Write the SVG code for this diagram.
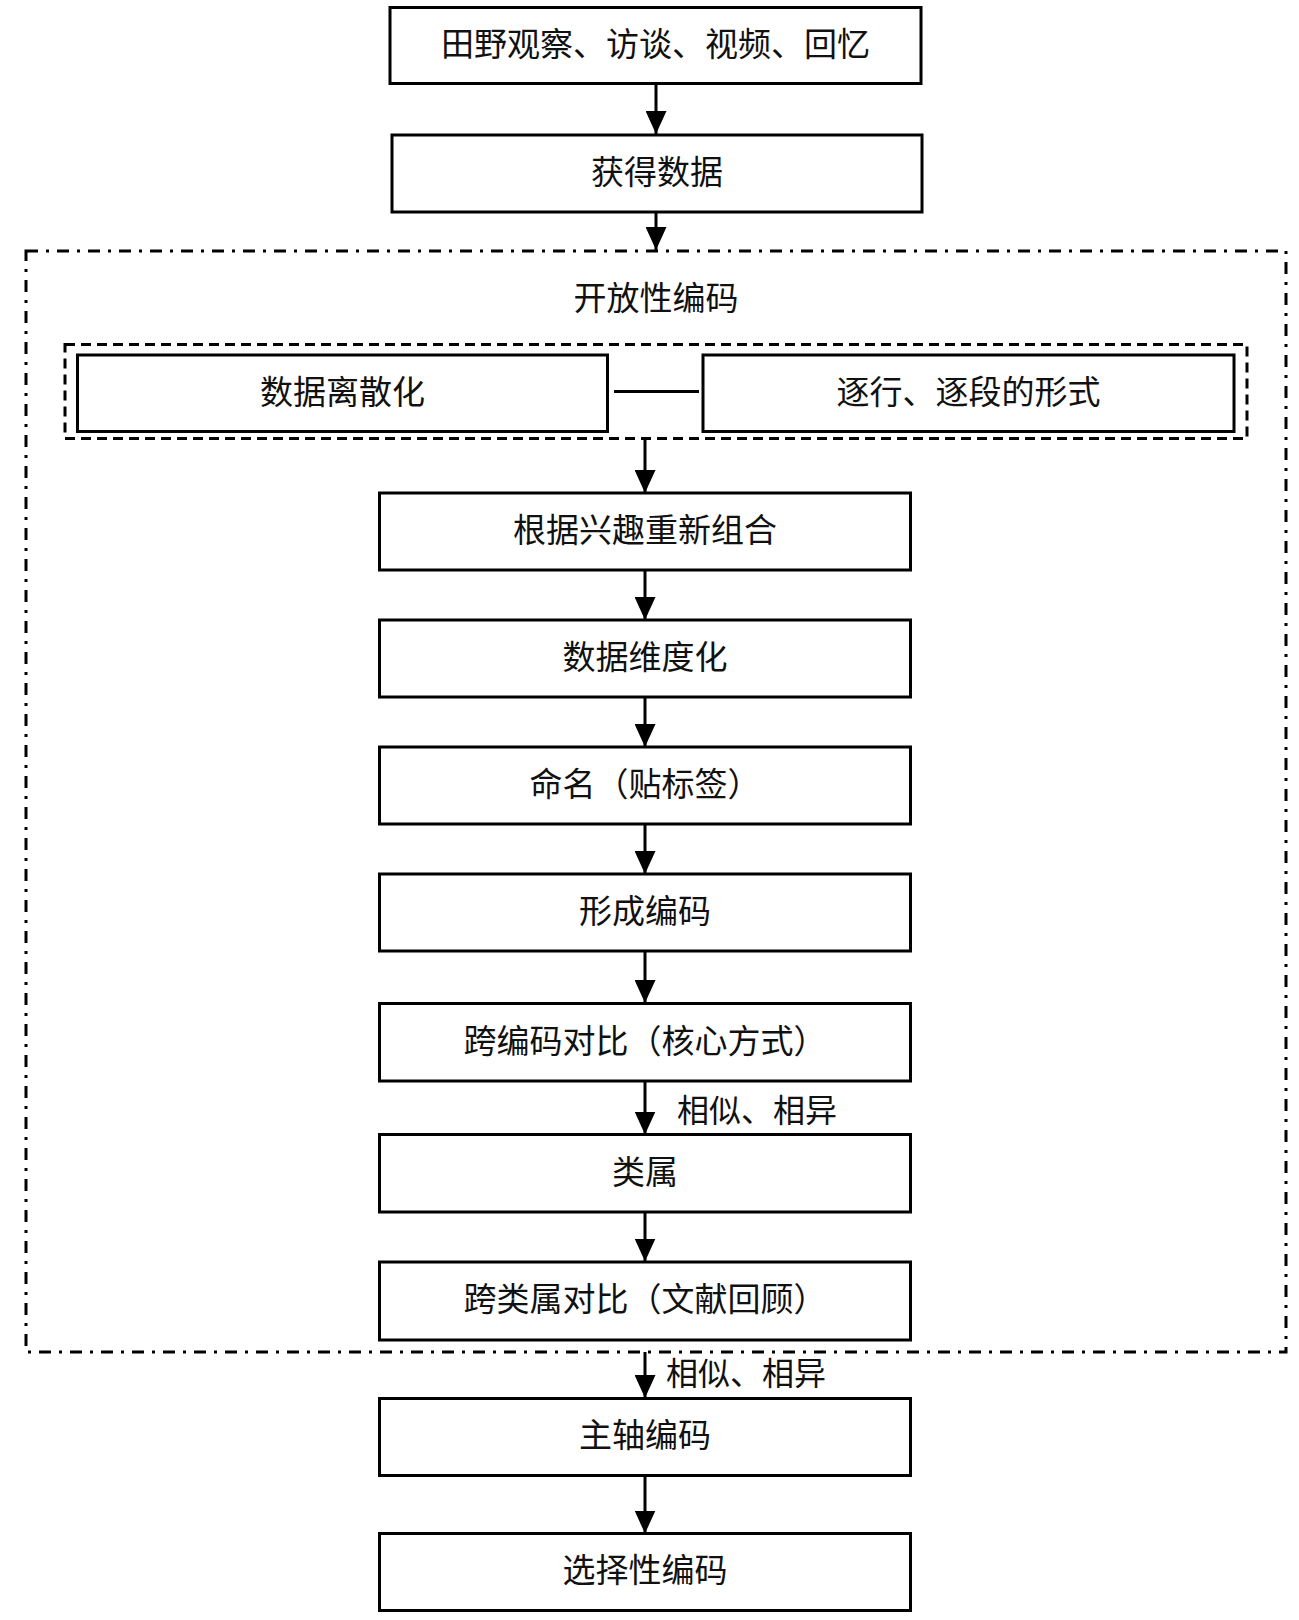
<svg xmlns="http://www.w3.org/2000/svg" width="1299" height="1620" viewBox="0 0 1299 1620">
  <style>
    .box { fill: #ffffff; stroke: #000000; stroke-width: 3; }
    .lbl { font-family: "Noto Sans CJK SC", "Noto Sans", sans-serif; font-size: 33px; fill: #111111; text-anchor: middle; dominant-baseline: central; }
    .note { font-family: "Noto Sans CJK SC", "Noto Sans", sans-serif; font-size: 32px; fill: #111111; dominant-baseline: central; }
    .flow { stroke: #000000; stroke-width: 3; fill: none; }
    .outer { fill: none; stroke: #000000; stroke-width: 3; stroke-dasharray: 12 8 3 8; }
    .inner { fill: none; stroke: #000000; stroke-width: 3; stroke-dasharray: 10 6; }
  </style>
  <defs>
    <marker id="arrow" markerUnits="userSpaceOnUse" markerWidth="23" markerHeight="21" refX="23" refY="10.5" orient="auto">
      <path d="M0,0 L23,10.5 L0,21 Z" fill="#000000"/>
    </marker>
  </defs>
  <rect width="1299" height="1620" fill="#ffffff"/>

  <!-- open coding frame -->
  <g id="open-coding">
    <rect class="outer" x="26" y="251" width="1260" height="1101"/>
    <text class="lbl" x="656" y="295.5">开放性编码</text>
  </g>
  <g id="discretize-group">
    <rect class="inner" x="65" y="344.5" width="1182" height="94"/>
  </g>

  <!-- connectors -->
  <g id="connectors">
    <line class="flow" x1="656" y1="84" x2="656" y2="134" marker-end="url(#arrow)"/>
    <line class="flow" x1="656" y1="212" x2="656" y2="250" marker-end="url(#arrow)"/>
    <line class="flow" x1="614" y1="391.5" x2="699" y2="391.5"/>
    <line class="flow" x1="645" y1="439" x2="645" y2="493" marker-end="url(#arrow)"/>
    <line class="flow" x1="645" y1="570" x2="645" y2="620" marker-end="url(#arrow)"/>
    <line class="flow" x1="645" y1="697" x2="645" y2="747" marker-end="url(#arrow)"/>
    <line class="flow" x1="645" y1="824" x2="645" y2="874" marker-end="url(#arrow)"/>
    <line class="flow" x1="645" y1="951" x2="645" y2="1003" marker-end="url(#arrow)"/>
    <line class="flow" x1="645" y1="1081" x2="645" y2="1134.5" marker-end="url(#arrow)"/>
    <text class="note" x="677" y="1108">相似、相异</text>
    <line class="flow" x1="645" y1="1212" x2="645" y2="1261.5" marker-end="url(#arrow)"/>
    <line class="flow" x1="645" y1="1352" x2="645" y2="1398" marker-end="url(#arrow)"/>
    <text class="note" x="666" y="1371">相似、相异</text>
    <line class="flow" x1="645" y1="1475.5" x2="645" y2="1533.5" marker-end="url(#arrow)"/>
  </g>

  <!-- nodes -->
  <g id="n-sources">
    <rect class="box" x="390" y="7.5" width="531" height="76"/>
    <text class="lbl" x="655.5" y="42">田野观察、访谈、视频、回忆</text>
  </g>
  <g id="n-data">
    <rect class="box" x="392" y="135" width="530" height="77"/>
    <text class="lbl" x="657" y="169.5">获得数据</text>
  </g>
  <g id="n-discretize">
    <rect class="box" x="77.5" y="355" width="530" height="76.5"/>
    <text class="lbl" x="342.5" y="389.5">数据离散化</text>
  </g>
  <g id="n-line-by-line">
    <rect class="box" x="703" y="355" width="531" height="76.5"/>
    <text class="lbl" x="968.5" y="389.5">逐行、逐段的形式</text>
  </g>
  <g id="n-regroup">
    <rect class="box" x="379.5" y="493" width="531" height="77"/>
    <text class="lbl" x="645" y="527.5">根据兴趣重新组合</text>
  </g>
  <g id="n-dimension">
    <rect class="box" x="379.5" y="620" width="531" height="77"/>
    <text class="lbl" x="645" y="654.5">数据维度化</text>
  </g>
  <g id="n-naming">
    <rect class="box" x="379.5" y="747" width="531" height="77"/>
    <text class="lbl" x="645" y="781.5">命名（贴标签）</text>
  </g>
  <g id="n-codes">
    <rect class="box" x="379.5" y="874" width="531" height="77"/>
    <text class="lbl" x="645" y="908.5">形成编码</text>
  </g>
  <g id="n-cross-code">
    <rect class="box" x="379.5" y="1003.5" width="531" height="77.5"/>
    <text class="lbl" x="645" y="1038.5">跨编码对比（核心方式）</text>
  </g>
  <g id="n-category">
    <rect class="box" x="379.5" y="1134.5" width="531" height="77.5"/>
    <text class="lbl" x="645" y="1169.5">类属</text>
  </g>
  <g id="n-cross-category">
    <rect class="box" x="379.5" y="1262" width="531" height="78"/>
    <text class="lbl" x="645" y="1296.5">跨类属对比（文献回顾）</text>
  </g>
  <g id="n-axial">
    <rect class="box" x="379.5" y="1398.5" width="531" height="77"/>
    <text class="lbl" x="645" y="1432.5">主轴编码</text>
  </g>
  <g id="n-selective">
    <rect class="box" x="379.5" y="1533.5" width="531" height="77"/>
    <text class="lbl" x="645" y="1567.5">选择性编码</text>
  </g>
</svg>
